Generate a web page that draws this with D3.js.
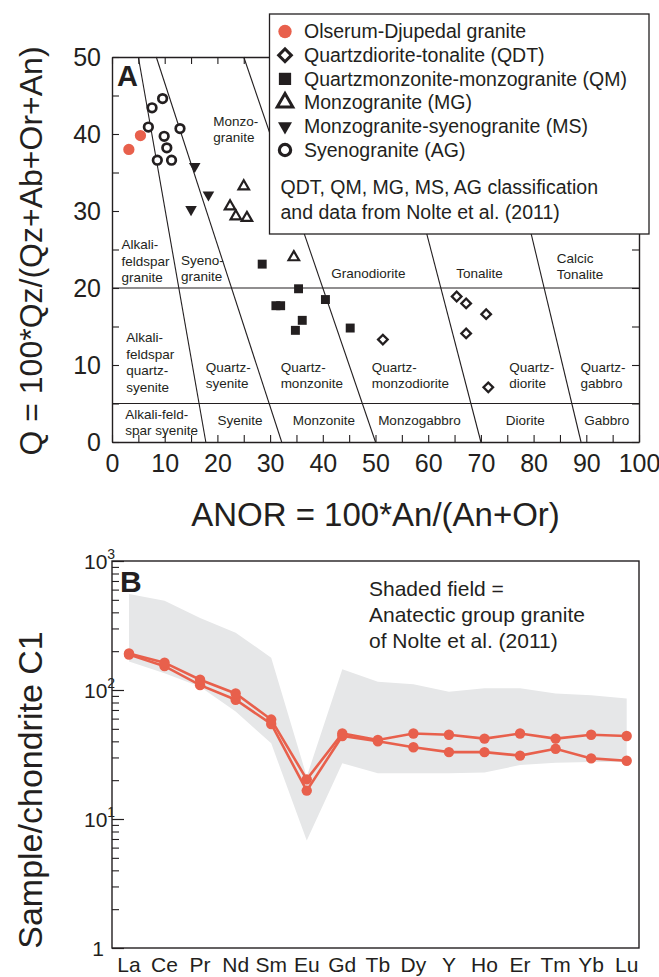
<!DOCTYPE html>
<html>
<head>
<meta charset="utf-8">
<script src="https://cdn.jsdelivr.net/npm/d3@7/dist/d3.min.js"></script>
<style>
body { margin: 0; background: #fff; }
svg text { font-family: "Liberation Sans", Arial, sans-serif; fill: #231f20; }
</style>
</head>
<body>
<div id="chart"></div>
<script>
// ---- panel A: Q vs ANOR, [ANOR, Q]
var olserum = [[3.2, 38.0], [5.4, 39.8]];
var syenogranite = [[9.6, 44.6], [7.6, 43.4], [6.9, 40.9], [12.9, 40.7], [9.9, 39.7], [10.4, 38.2], [8.6, 36.6], [11.3, 36.6]];
var monzoSyenogranite = [[15.7, 35.8], [18.3, 32.1], [15.0, 30.2]];
var monzogranite = [[25.0, 33.2], [22.4, 30.6], [23.5, 29.3], [25.6, 29.1], [34.5, 24.0]];
var quartzmonzonite = [[28.5, 23.1], [35.4, 19.9], [40.5, 18.5], [31.1, 17.7], [32.0, 17.7], [36.1, 15.8], [34.8, 14.5], [45.2, 14.8]];
var quartzdiorite = [[51.4, 13.3], [65.4, 18.9], [67.2, 18.0], [71.0, 16.6], [67.2, 14.1], [71.4, 7.1]];

// field boundaries: [ANOR at Q=0, ANOR at Q=50]
var slantBounds = [[17.8, 5.0], [32.2, 8.4], [50, 25], [70, 51], [89, 71.5]];
var flatBounds = [5, 20];

var fieldNames = [
	{ at: [19.2, 41.7], lines: ["Monzo-", "granite"] },
	{ at: [1.8, 25.7], lines: ["Alkali-", "feldspar", "granite"] },
	{ at: [13.1, 23.7], lines: ["Syeno-", "granite"] },
	{ at: [41.6, 21.9], lines: ["Granodiorite"] },
	{ at: [65.3, 21.9], lines: ["Tonalite"] },
	{ at: [84.4, 23.9], lines: ["Calcic", "Tonalite"] },
	{ at: [2.7, 13.6], lines: ["Alkali-", "feldspar", "quartz-", "syenite"] },
	{ at: [17.8, 9.8], lines: ["Quartz-", "syenite"] },
	{ at: [32.0, 9.8], lines: ["Quartz-", "monzonite"] },
	{ at: [49.3, 9.8], lines: ["Quartz-", "monzodiorite"] },
	{ at: [75.4, 9.8], lines: ["Quartz-", "diorite"] },
	{ at: [88.9, 9.8], lines: ["Quartz-", "gabbro"] },
	{ at: [2.5, 3.7], lines: ["Alkali-feld-", "spar syenite"] },
	{ at: [20.0, 2.9], lines: ["Syenite"] },
	{ at: [34.3, 2.9], lines: ["Monzonite"] },
	{ at: [50.5, 2.9], lines: ["Monzogabbro"] },
	{ at: [74.7, 2.9], lines: ["Diorite"] },
	{ at: [89.6, 2.9], lines: ["Gabbro"] }
];

var legendLabels = ["Olserum-Djupedal granite", "Quartzdiorite-tonalite (QDT)", "Quartzmonzonite-monzogranite (QM)",
	"Monzogranite (MG)", "Monzogranite-syenogranite (MS)", "Syenogranite (AG)"];
var legendNote = ["QDT, QM, MG, MS, AG classification", "and data from Nolte et al. (2011)"];

// ---- panel B: chondrite-normalised REE
var ree = ["La", "Ce", "Pr", "Nd", "Sm", "Eu", "Gd", "Tb", "Dy", "Y", "Ho", "Er", "Tm", "Yb", "Lu"];
var sampleHigh = [192, 163, 120, 94, 59, 20.3, 46, 41, 46, 45, 42, 46, 42, 45, 44];
var sampleLow = [188, 153, 109, 84, 54.5, 16.6, 44, 40, 36, 33, 33, 31, 35, 29.5, 28.3];
var anatecticMax = [555, 492, 361, 278, 178, 21.3, 145, 116, 111, 97, 103, 103, 94, 91, 86];
var anatecticMin = [166, 135, 106, 68, 38.6, 6.8, 27, 22.6, 22.6, 22.6, 22.9, 26.2, 27.3, 27.6, 27.6];
var reeTicks = [1, 10, 100, 1000];
var shadeNote = ["Shaded field =", "Anatectic group granite", "of Nolte et al. (2011)"];

var RED = "#e8604c", INK = "#231f20";

var svg = d3.select("#chart").append("svg")
	.attr("width", 659)
	.attr("height", 977);

function qanor_plot(svg) {
	this.svg = svg;
	this.x = d3.scaleLinear().domain([0, 100]).range([112, 639]);
	this.y = d3.scaleLinear().domain([0, 50]).range([442, 57]);
	this.g = svg.append("g").attr("class", "qanor");
}

qanor_plot.prototype = {
	draw : function() {
		var self = this, x = self.x, y = self.y, g = self.g;

		// field boundaries
		g.selectAll("line.slant")
			.data(slantBounds)
			.enter().append("line")
			.attr("class", "slant")
			.attr("x1", function(d) { return x(d[0]); })
			.attr("y1", y(0))
			.attr("x2", function(d) { return x(d[1]); })
			.attr("y2", y(50))
			.attr("stroke", INK).attr("stroke-width", 1.1);
		g.selectAll("line.flat")
			.data(flatBounds)
			.enter().append("line")
			.attr("class", "flat")
			.attr("x1", x(0)).attr("x2", x(100))
			.attr("y1", function(d) { return y(d); })
			.attr("y2", function(d) { return y(d); })
			.attr("stroke", INK).attr("stroke-width", 1.1);

		// field names
		var names = g.selectAll("text.field")
			.data(fieldNames)
			.enter().append("text")
			.attr("class", "field")
			.attr("font-size", 13.5);
		names.selectAll("tspan")
			.data(function(d) { return d.lines.map(function(t, i) { return { t: t, i: i, at: d.at }; }); })
			.enter().append("tspan")
			.attr("x", function(d) { return x(d.at[0]); })
			.attr("y", function(d) { return y(d.at[1]) + 5 + d.i * 16.5; })
			.text(function(d) { return d.t; });

		// axes, ticks inward
		var ax = function(gen, tx, ty) {
			g.append("g")
				.attr("transform", "translate(" + tx + "," + ty + ")")
				.call(gen)
				.call(function(s) {
					s.select(".domain").attr("stroke", INK).attr("stroke-width", 1.4);
					s.selectAll(".tick line").attr("stroke", INK).attr("stroke-width", 1.1);
					s.selectAll(".tick text").attr("font-size", 25).attr("fill", INK);
				});
		};
		var xv = d3.range(0, 101, 5), yv = d3.range(0, 51, 5);
		ax(d3.axisBottom(x).tickValues(xv).tickSizeInner(-7).tickSizeOuter(0).tickPadding(12)
			.tickFormat(function(d) { return d % 10 === 0 ? d : ""; }), 0, y(0));
		ax(d3.axisTop(x).tickValues(xv).tickSizeInner(-7).tickSizeOuter(0).tickFormat(""), 0, y(50));
		ax(d3.axisLeft(y).tickValues(yv).tickSizeInner(-7).tickSizeOuter(0).tickPadding(11)
			.tickFormat(function(d) { return d % 10 === 0 ? d : ""; }), x(0), 0);
		ax(d3.axisRight(y).tickValues(yv).tickSizeInner(-7).tickSizeOuter(0).tickFormat(""), x(100), 0);

		// samples
		self.marks(quartzdiorite, "diamond", 46, false, 2.3);
		self.marks(quartzmonzonite, "square", 80, true, 0);
		self.marks(monzogranite, "up", 48, false, 2.2);
		self.marks(monzoSyenogranite, "down", 58, true, 0);
		self.marks(syenogranite, "circle", 58, false, 2.7);
		self.marks(olserum, "red", 100, true, 0);

		self.legend();

		g.append("text").attr("x", 117).attr("y", 86)
			.attr("font-size", 29).attr("font-weight", "bold").text("A");
		g.append("text").attr("x", x(50)).attr("y", 526)
			.attr("text-anchor", "middle").attr("font-size", 33)
			.text("ANOR = 100*An/(An+Or)");
		g.append("text").attr("transform", "translate(42," + 251 + ") rotate(-90)")
			.attr("text-anchor", "middle").attr("font-size", 32)
			.text("Q = 100*Qz/(Qz+Ab+Or+An)");
	},
	symbol : function(kind, size) {
		var type = { diamond: d3.symbolSquare, square: d3.symbolSquare, up: d3.symbolTriangle,
			down: d3.symbolTriangle, circle: d3.symbolCircle, red: d3.symbolCircle }[kind];
		return d3.symbol().type(type).size(size)();
	},
	rot : function(kind) {
		if (kind === "diamond") return " rotate(45)";
		if (kind === "down") return " rotate(180)";
		return "";
	},
	paint : function(sel, kind, filled, sw) {
		sel.attr("fill", kind === "red" ? RED : (filled ? INK : "#fff"))
			.attr("stroke", filled ? "none" : INK)
			.attr("stroke-width", sw)
			.attr("stroke-linejoin", "miter");
	},
	marks : function(data, kind, size, filled, sw) {
		var self = this;
		var p = self.g.append("g").selectAll("path")
			.data(data)
			.enter().append("path")
			.attr("d", self.symbol(kind, size))
			.attr("transform", function(d) {
				return "translate(" + self.x(d[0]) + "," + self.y(d[1]) + ")" + self.rot(kind);
			});
		self.paint(p, kind, filled, sw);
	},
	legend : function() {
		var self = this;
		var lg = self.svg.append("g").attr("class", "legend");
		lg.append("rect")
			.attr("x", 269.5).attr("y", 14).attr("width", 379.5).attr("height", 220)
			.attr("fill", "#fff").attr("stroke", INK).attr("stroke-width", 1.3);
		var kinds = [["red", 140, true, 0], ["diamond", 80, false, 3], ["square", 150, true, 0],
			["up", 105, false, 3], ["down", 85, true, 0], ["circle", 100, false, 3.2]];
		var rows = lg.selectAll("g.row")
			.data(legendLabels)
			.enter().append("g")
			.attr("class", "row")
			.attr("transform", function(d, i) { return "translate(0," + (31.5 + i * 23.7) + ")"; });
		rows.append("path")
			.attr("d", function(d, i) { return self.symbol(kinds[i][0], kinds[i][1]); })
			.attr("transform", function(d, i) { return "translate(285,0)" + self.rot(kinds[i][0]); })
			.each(function(d, i) {
				self.paint(d3.select(this), kinds[i][0], kinds[i][2], kinds[i][3]);
			});
		rows.append("text")
			.attr("x", 304).attr("y", 6.8)
			.attr("font-size", 19.5)
			.text(function(d) { return d; });
		lg.selectAll("text.note")
			.data(legendNote)
			.enter().append("text")
			.attr("class", "note")
			.attr("x", 280.5)
			.attr("y", function(d, i) { return 193.5 + i * 25; })
			.attr("font-size", 19.5)
			.text(function(d) { return d; });
	}
};

function ree_plot(svg) {
	this.svg = svg;
	this.x = d3.scalePoint().domain(ree).range([129, 626.7]);
	this.y = d3.scaleLog().domain([1, 1000]).range([948, 561]);
	this.g = svg.append("g").attr("class", "ree");
}

ree_plot.prototype = {
	draw : function() {
		var self = this, x = self.x, y = self.y, g = self.g;

		var field = d3.area()
			.x(function(d, i) { return x(ree[i]); })
			.y0(function(d, i) { return y(anatecticMin[i]); })
			.y1(function(d) { return y(d); });
		g.append("path")
			.attr("d", field(anatecticMax))
			.attr("fill", "#e6e7e8");

		var line = d3.line()
			.x(function(d, i) { return x(ree[i]); })
			.y(function(d) { return y(d); });
		[sampleLow, sampleHigh].forEach(function(s) {
			g.append("path")
				.attr("d", line(s))
				.attr("fill", "none").attr("stroke", RED).attr("stroke-width", 2.6);
			g.append("g").selectAll("circle")
				.data(s)
				.enter().append("circle")
				.attr("cx", function(d, i) { return x(ree[i]); })
				.attr("cy", function(d) { return y(d); })
				.attr("r", 5.2)
				.attr("fill", RED);
		});

		// frame
		g.append("rect")
			.attr("x", 112).attr("y", 561).attr("width", 527).attr("height", 387)
			.attr("fill", "none").attr("stroke", INK).attr("stroke-width", 1.4);

		// log ticks inward, longer at decades
		var minor = [];
		[1, 10, 100].forEach(function(dec) {
			d3.range(2, 10).forEach(function(m) { minor.push(dec * m); });
		});
		g.append("g").attr("transform", "translate(112,0)")
			.call(d3.axisRight(y).tickValues(minor).tickSize(7).tickFormat(""))
			.call(function(s) {
				s.select(".domain").remove();
				s.selectAll(".tick line").attr("stroke", INK).attr("stroke-width", 1.1);
			});
		g.append("g").attr("transform", "translate(112,0)")
			.call(d3.axisRight(y).tickValues(reeTicks).tickSize(12).tickFormat(""))
			.call(function(s) {
				s.select(".domain").remove();
				s.selectAll(".tick line").attr("stroke", INK).attr("stroke-width", 1.2);
			});

		// decade labels
		var lab = g.selectAll("text.dec")
			.data(reeTicks)
			.enter().append("text")
			.attr("class", "dec")
			.attr("x", function(d) { return d === 1 ? 104 : 84; })
			.attr("y", function(d) { return y(d) + 8; })
			.attr("text-anchor", function(d) { return d === 1 ? "end" : null; })
			.attr("font-size", 21);
		lab.append("tspan").text(function(d) { return d === 1 ? "1" : "10"; });
		lab.filter(function(d) { return d > 1; })
			.append("tspan")
			.attr("dy", -10).attr("font-size", 14)
			.text(function(d) { return Math.round(Math.log10(d)); });

		g.selectAll("text.ree")
			.data(ree)
			.enter().append("text")
			.attr("class", "ree")
			.attr("x", function(d) { return x(d); })
			.attr("y", 972)
			.attr("text-anchor", "middle")
			.attr("font-size", 21)
			.text(function(d) { return d; });

		g.selectAll("text.note")
			.data(shadeNote)
			.enter().append("text")
			.attr("class", "note")
			.attr("x", 369)
			.attr("y", function(d, i) { return 596 + i * 26; })
			.attr("font-size", 21)
			.text(function(d) { return d; });

		g.append("text").attr("x", 120).attr("y", 592)
			.attr("font-size", 30).attr("font-weight", "bold").text("B");
		g.append("text").attr("transform", "translate(42,790) rotate(-90)")
			.attr("text-anchor", "middle").attr("font-size", 34)
			.text("Sample/chondrite C1");
	}
};

var panelA = new qanor_plot(svg);
panelA.draw();
var panelB = new ree_plot(svg);
panelB.draw();
</script>
</body>
</html>
